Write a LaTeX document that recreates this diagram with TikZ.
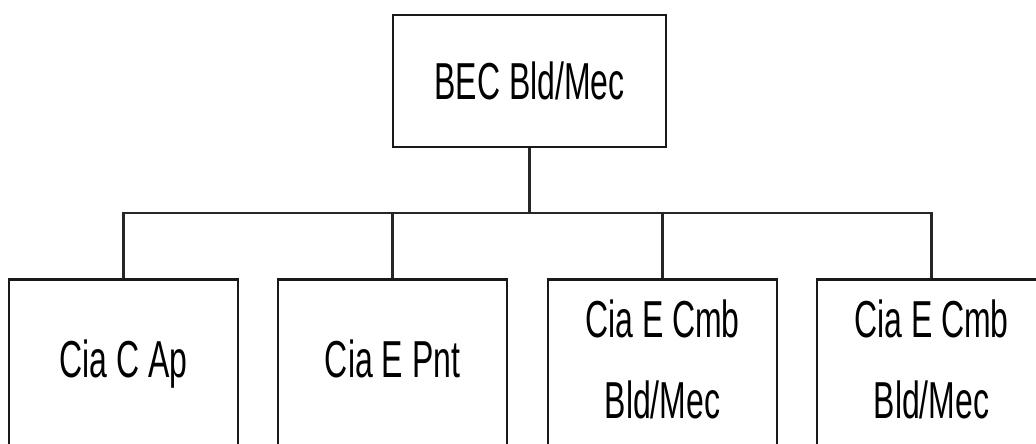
\documentclass[tikz,border=0pt]{standalone}
\usepackage{fontspec}
\newfontfamily\chartfont[FakeStretch=0.615]{Liberation Sans}
\begin{document}
\begin{tikzpicture}[x=1pt,y=-1pt,
  orgbox/.style={draw=black!90, line width=2.8pt, rectangle, inner sep=0pt},
  unitbox/.style={orgbox, minimum width=229pt, minimum height=220pt, anchor=north},
  lbl/.style={font=\chartfont\fontsize{52pt}{81pt}\selectfont, inner sep=0pt, align=center},
  link/.style={draw=black!85, line width=2.3pt}]
  \useasboundingbox (0,0) rectangle (1036,444);
  \clip (0,0) rectangle (1036,444);

  % headquarters
  \node[orgbox, minimum width=273pt, minimum height=132pt, lbl] (hq) at (529.5,81) {BEC Bld/Mec};

  % subordinate companies (boxes run past the lower edge)
  \node[unitbox] (c1) at (123.5,278) {};
  \node[unitbox] (c2) at (392.5,278) {};
  \node[unitbox] (c3) at (662.5,278) {};
  \node[unitbox] (c4) at (931.5,278) {};

  % labels; a two-line label sits on the baseline of its last line
  \node[lbl, anchor=base] (t1) at (123.5,377) {Cia C Ap};
  \node[lbl, anchor=base] (t2) at (392.5,377) {Cia E Pnt};
  \node[lbl, anchor=base] (t3) at (662.5,418) {Cia E Cmb\\Bld/Mec};
  \node[lbl, anchor=base] (t4) at (931.5,418) {Cia E Cmb\\Bld/Mec};

  % connectors
  \coordinate (bus) at (0,213);
  \draw[link] (hq.south) -- (hq.south |- bus);
  \draw[link] (c1.north) -- (c1.north |- bus) -- (c4.north |- bus) -- (c4.north);
  \draw[link] (c2.north |- bus) -- (c2.north);
  \draw[link] (c3.north |- bus) -- (c3.north);
\end{tikzpicture}
\end{document}
